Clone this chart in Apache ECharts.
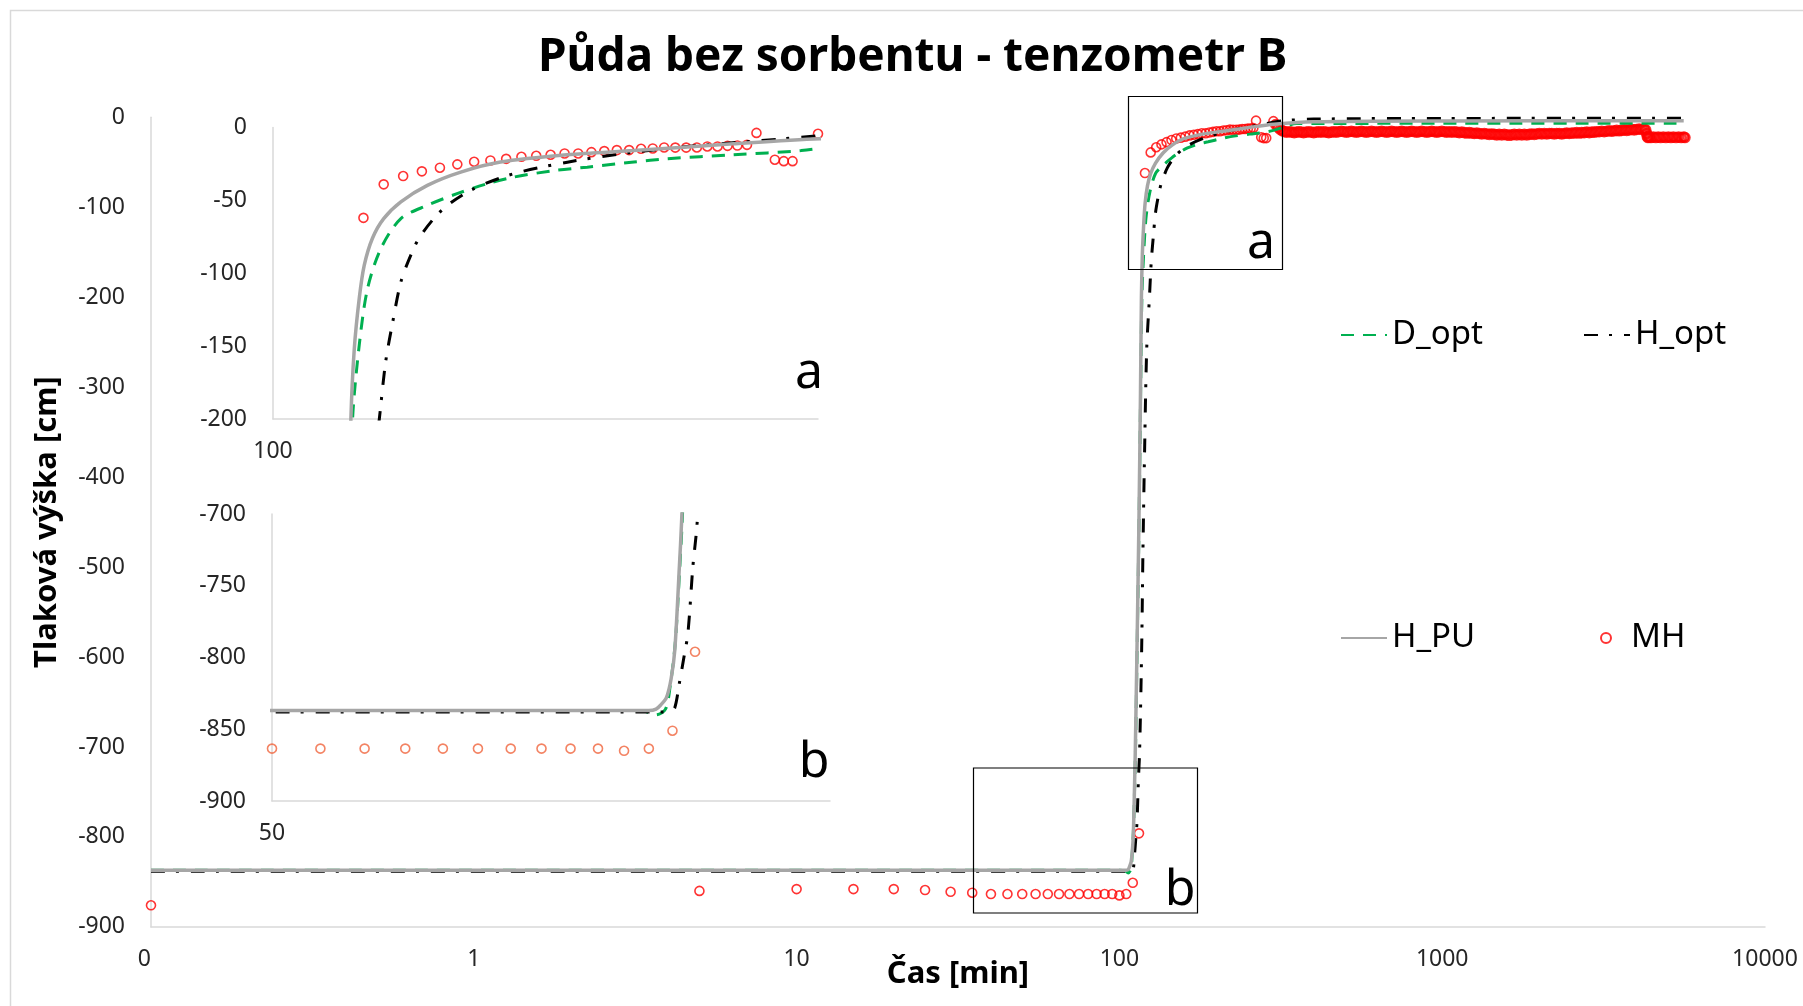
<!DOCTYPE html>
<html>
<head>
<meta charset="utf-8">
<script src="https://cdn.jsdelivr.net/npm/echarts@6/dist/echarts.min.js"></script>
<style>
  html, body { margin: 0; padding: 0; background: #fff; }
  #chart { width: 1803px; height: 1006px; }
</style>
</head>
<body>
<div id="chart"></div>
<script>
// time [min] and pressure head [cm]
const dOptTime = [0.1, 100, 104, 106.5, 108.5, 109.5, 110.6, 111.6, 112.2, 113.6, 115.1, 116.4, 117.4, 119, 121, 124.3, 129.4, 136.5, 144.9, 154, 162.5, 176.4, 188.4, 207, 221, 253, 290, 322, 354, 500, 1000, 5600];
const dOptHead = [-837, -837, -837.5, -840, -836, -820, -790, -737, -700, -580, -444, -300, -200, -149, -110.5, -83, -62.5, -53.4, -45.4, -38.6, -34, -29.5, -27.2, -23.7, -21.5, -18.7, -15.8, -11, -7, -6.8, -6.7, -6.5];

const hOptTime = [0.1, 100, 108, 109.5, 110.5, 111.5, 112.5, 113.4, 114.5, 115.5, 117.2, 118.3, 119.7, 121.5, 123.9, 125.5, 127.3, 129.4, 132, 134.7, 141, 149.9, 162.5, 181, 207, 236.6, 279.5, 320, 400, 1000, 5600];
const hOptHead = [-838, -838, -838, -837.5, -835, -818, -800, -783, -737, -705, -592, -481, -370, -258, -200, -160.7, -133.4, -106, -87.7, -74, -55.7, -42, -31.7, -23.8, -16.9, -12.3, -7.8, -4, -2, -1.3, -1];

const hPuTime = [0.1, 100, 105, 106.5, 107.5, 108.7, 109.7, 110.5, 111.5, 112, 113.5, 115, 116.2, 117, 117.8, 119, 120.2, 122.2, 125, 129.4, 136.5, 146, 158.2, 180.9, 207, 253, 301, 400, 1000, 5600];
const hPuHead = [-837, -837, -837, -836, -833, -828, -815, -795, -737, -705, -580, -444, -310, -200, -152, -117, -94.5, -76, -62.5, -51, -39.7, -30.6, -23.7, -18.7, -15.8, -11.2, -7.8, -5, -4, -3.7];

// measured MH, first the sparse part up to 300 min
const mhTime = [0.1, 5, 10, 15, 20, 25, 30, 35, 40, 45, 50, 55, 60, 65, 70, 75, 80, 85, 90, 95, 100, 105, 110, 115,
  120, 125, 130, 135, 140, 145, 150, 155, 160, 165, 170, 175, 180, 185, 190, 195, 200, 205, 210, 215, 220, 225, 230, 235,
  240, 245, 250, 255, 260, 265, 275, 280, 285, 300];
const mhHead = [-876, -860, -858, -858, -858, -859, -861, -862, -863.5, -863.5, -863.5, -863.5, -863.5, -863.5, -863.5, -863.5, -863.5, -863.5, -863.5, -863.5, -865, -863.5, -851, -796,
  -62, -39, -33.3, -30.1, -27.6, -25.3, -23.5, -22.6, -21.5, -20.1, -19.4, -18.7, -17.8, -17.8, -16.9, -16.2, -15.5, -15.5, -14.6, -14.4, -13.7, -13.8, -13.8, -13.7,
  -13, -13, -12.6, -12.4, -11.9, -3.7, -22.1, -23.1, -23.1, -4.3];

// then the long dense run after 300 min
const mhLateTime = [305, 310, 315, 320, 325, 330, 336, 342, 348, 354, 360, 366, 372, 379, 386, 393, 400, 407, 414, 421,
  429, 437, 445, 453, 461, 469, 478, 487, 496, 505, 514, 523, 532, 542, 552, 562, 572, 582, 593, 604,
  615, 626, 637, 649, 661, 673, 685, 697, 710, 723, 736, 749, 762, 776, 790, 804, 819, 834, 849, 864,
  880, 896, 912, 928, 945, 962, 979, 997, 1015, 1033, 1052, 1071, 1090, 1110, 1130, 1150, 1171, 1192, 1213, 1235,
  1257, 1280, 1303, 1326, 1350, 1374, 1399, 1424, 1450, 1476, 1502, 1529, 1557, 1585, 1613, 1642, 1672, 1702, 1733, 1764,
  1796, 1828, 1861, 1894, 1928, 1963, 1998, 2034, 2071, 2108, 2146, 2185, 2224, 2264, 2305, 2346, 2388, 2431, 2475, 2520,
  2565, 2611, 2658, 2706, 2755, 2805, 2855, 2906, 2958, 3011, 3065, 3120, 3176, 3233, 3291, 3350, 3410, 3471, 3534, 3597,
  3662, 3728, 3795, 3863, 3932, 4003, 4075, 4148, 4222, 4270, 4300, 4320, 4340, 4380, 4430, 4510, 4590, 4670, 4750, 4840,
  4930, 5020, 5110, 5200, 5300, 5400, 5500, 5600, 5650];
const mhLateHead = [-8, -11, -13.5, -15, -16, -16.5, -16, -16.5, -17, -16.5, -16, -16.5, -17, -16.5, -16, -16.5, -17, -16.5, -16, -16.5,
  -16, -16.5, -17, -16.5, -16, -16.5, -16, -15.5, -16, -16.5, -16, -15.5, -16, -16.5, -16, -15.5, -16, -16.5, -16, -15.5,
  -16, -16.5, -16, -15.5, -16, -16.5, -16, -15.5, -16, -16.5, -16, -15.5, -16, -16.5, -16, -15.5, -16, -16.5, -16, -15.5,
  -16, -16.5, -16, -15.5, -16, -16.5, -16, -15.5, -16, -16.5, -16, -16.5, -16, -16.5, -17, -16.5, -17, -17.5, -17, -17.5,
  -18, -17.5, -18, -18.5, -18, -18.5, -19, -18.5, -19, -19.5, -19, -19.5, -19, -19.5, -20, -19.5, -19, -19.5, -19, -19.5,
  -19, -19.5, -19, -18.5, -19, -18.5, -18, -18.5, -18, -18.5, -18, -18, -18.5, -18, -18, -18.5, -18, -17.5, -18, -17.5,
  -17.5, -17, -17.5, -17, -17, -16.5, -17, -16.5, -16.5, -16, -16, -15.5, -16, -15.5, -15, -15.5, -15, -14.5, -15, -14.5,
  -14, -14.5, -14, -13.5, -14, -13.5, -13, -13.5, -13, -14, -18, -21.5, -22.5, -22, -22.5, -22, -22.5, -22, -22.5, -22,
  -22.5, -22, -22.5, -22, -22.5, -22, -22.5, -22, -22.5];

const mainXLabels = ['0', '1', '10', '100', '1000', '10000'];
const insetAXLabels = ['100'];
const insetBXLabels = ['50'];

const pairs = (t, h) => t.map((x, i) => [x, h[i]]);
// the late run is logged so densely that its circles merge into a band
const mhData = pairs(mhTime, mhHead).concat(
  pairs(mhLateTime, mhLateHead).map((p) => ({ value: p, itemStyle: { borderWidth: 2.6 } }))
);

const FONT = 'Noto Sans';
const axisGray = '#d9d9d9';
const labelColor = '#262626';

function xAxisFor(grid, min, max, labels) {
  return {
    type: 'log', logBase: 10, gridIndex: grid, min: min, max: max,
    axisLine: { onZero: false, lineStyle: { color: axisGray, width: 1.5 } },
    axisTick: { show: false },
    splitLine: { show: false },
    axisLabel: {
      interval: 0, margin: 21, fontSize: 23, fontFamily: FONT, color: labelColor,
      formatter: (v, i) => labels[i] || ''
    }
  };
}

function yAxisFor(grid, min, max, interval) {
  return {
    type: 'value', gridIndex: grid, min: min, max: max, interval: interval,
    axisLine: { show: true, onZero: false, lineStyle: { color: axisGray, width: 1.5 } },
    axisTick: { show: false },
    splitLine: { show: false },
    axisLabel: { margin: 26, fontSize: 23, fontFamily: FONT, color: labelColor }
  };
}

function seriesFor(grid, mhColor) {
  return [
    {
      name: 'D_opt', type: 'line', xAxisIndex: grid, yAxisIndex: grid,
      data: pairs(dOptTime, dOptHead), showSymbol: false, symbol: 'none', smooth: 0.3,
      lineStyle: { color: '#00b050', width: 3, type: [13, 9] }, itemStyle: { color: '#00b050' }
    },
    {
      name: 'H_opt', type: 'line', xAxisIndex: grid, yAxisIndex: grid,
      data: pairs(hOptTime, hOptHead), showSymbol: false, symbol: 'none', smooth: 0.3,
      lineStyle: { color: '#000000', width: 3, type: [14, 11, 3, 12] }, itemStyle: { color: '#000000' }
    },
    {
      name: 'H_PU', type: 'line', xAxisIndex: grid, yAxisIndex: grid,
      data: pairs(hPuTime, hPuHead), showSymbol: false, symbol: 'none', smooth: 0.3,
      lineStyle: { color: '#a6a6a6', width: 3.5 }, itemStyle: { color: '#a6a6a6' }
    },
    {
      name: 'MH', type: 'scatter', xAxisIndex: grid, yAxisIndex: grid,
      data: mhData, symbol: 'circle', symbolSize: 9,
      itemStyle: { color: 'rgba(255,255,255,0)', borderColor: mhColor, borderWidth: 1.6 }
    }
  ];
}

// line legends: hide the little symbol, keep the dashed line
function lineLegend(name, left, top) {
  return {
    data: [name], left: left, top: top, padding: 0, itemWidth: 46, itemHeight: 14,
    itemStyle: { opacity: 0, color: 'rgba(0,0,0,0)', borderWidth: 0 },
    textStyle: { fontSize: 33, fontFamily: FONT, color: '#000' }
  };
}

function boxLabel(text, x, y) {
  return {
    type: 'text', x: x, y: y,
    style: { text: text, fontSize: 50, fontFamily: FONT, fill: '#000', align: 'center', verticalAlign: 'middle' }
  };
}

const option = {
  backgroundColor: '#fff',
  animation: false,
  title: {
    text: 'Půda bez sorbentu - tenzometr B',
    left: 533, top: 30,
    textStyle: { fontSize: 46, fontWeight: 'bold', fontFamily: FONT, color: '#000' }
  },
  legend: [
    lineLegend('D_opt', 1340, 318.5),
    lineLegend('H_opt', 1583, 318.5),
    lineLegend('H_PU', 1340, 621.5),
    {
      data: [{ name: 'MH', icon: 'circle' }], left: 1600, top: 621.5, padding: 0, itemWidth: 10, itemHeight: 10,
      textStyle: { fontSize: 33, fontFamily: FONT, color: '#000', padding: [0, 0, 0, 15] }
    }
  ],
  grid: [
    { left: 151, top: 117.3, width: 1614, height: 809.6, outerBoundsMode: 'none' },
    { left: 273, top: 127.5, width: 545, height: 291.5, outerBoundsMode: 'none' },
    { left: 272, top: 514, width: 558, height: 287, outerBoundsMode: 'none' }
  ],
  xAxis: [
    Object.assign(xAxisFor(0, 0.1, 10000, mainXLabels), {
      name: 'Čas [min]', nameLocation: 'middle', nameGap: 32, nameMoveOverlap: false,
      nameTextStyle: { fontSize: 31, fontWeight: 'bold', fontFamily: FONT, color: '#000' }
    }),
    xAxisFor(1, 100, 300, insetAXLabels),
    xAxisFor(2, 50, 150, insetBXLabels)
  ],
  yAxis: [
    Object.assign(yAxisFor(0, -900, 0, 100), {
      name: 'Tlaková výška [cm]', nameLocation: 'middle', nameGap: 88, nameRotate: 90, nameMoveOverlap: false,
      nameTextStyle: { fontSize: 31, fontWeight: 'bold', fontFamily: FONT, color: '#000' }
    }),
    yAxisFor(1, -200, 0, 50),
    yAxisFor(2, -900, -700, 50)
  ],
  series: [].concat(seriesFor(0, '#ff0000'), seriesFor(1, '#ff0000'), seriesFor(2, '#f0643c')),
  graphic: [
    { type: 'rect', shape: { x: 10.5, y: 10.5, width: 1800, height: 1000 }, style: { fill: 'none', stroke: '#d9d9d9', lineWidth: 1.5 }, silent: true },
    { type: 'rect', shape: { x: 1128.5, y: 96.5, width: 154, height: 173 }, style: { fill: 'none', stroke: '#000', lineWidth: 1.2 }, z: 10 },
    { type: 'rect', shape: { x: 973.5, y: 768, width: 224, height: 145 }, style: { fill: 'none', stroke: '#000', lineWidth: 1.2 }, z: 10 },
    boxLabel('a', 1261, 244),
    boxLabel('b', 1180, 891),
    boxLabel('a', 809, 374),
    boxLabel('b', 814, 763)
  ]
};

// Excel writes the first log label a little left of the axis
option.xAxis[0].axisLabel.alignMinLabel = 'right';

const chart = echarts.init(document.getElementById('chart'));
chart.setOption(option);
</script>
</body>
</html>
